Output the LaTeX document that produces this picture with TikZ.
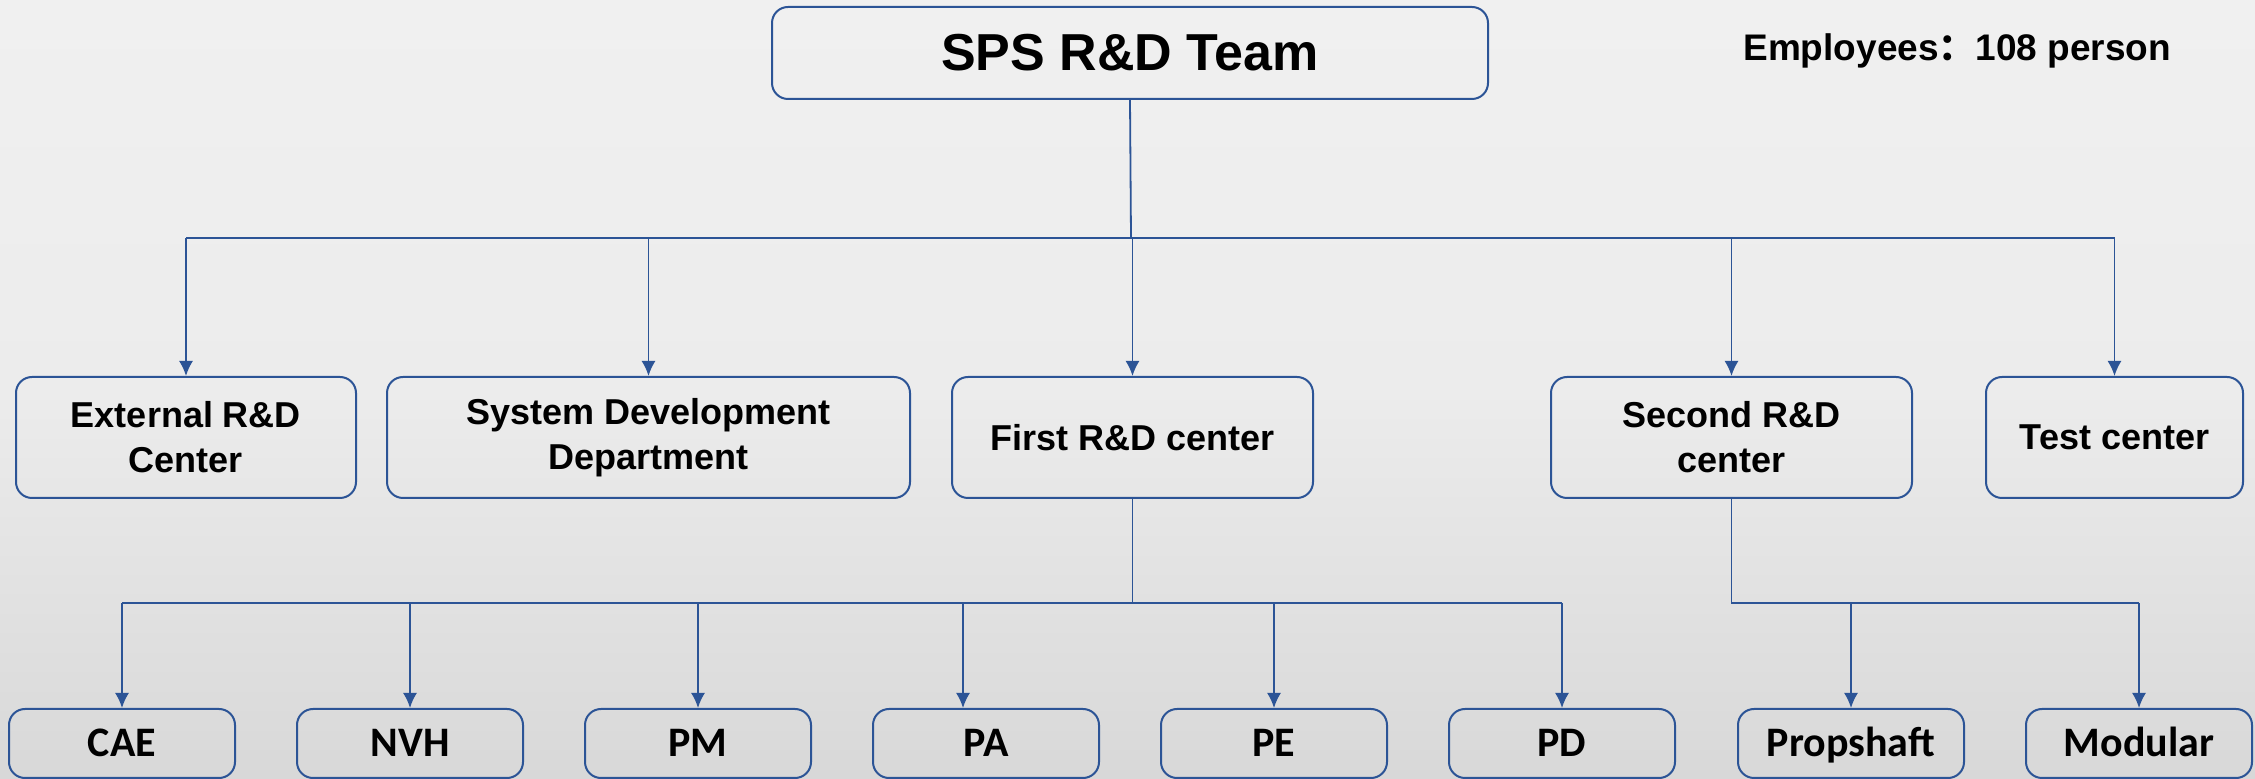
\documentclass[tikz,border=0pt]{standalone}
\usepackage{fontspec}
\setmainfont{Liberation Sans}
\newfontfamily\cjkfont{Noto Sans CJK SC}
\newfontfamily\carlfont{Carlito}
\usetikzlibrary{arrows.meta}
\definecolor{boxblue}{RGB}{44,84,150}
\tikzset{
  box/.style={draw=boxblue, line width=1pt, rounded corners=8pt, align=center, inner sep=0pt, font=\bfseries\fontsize{18}{22.5}\selectfont},
  midbox/.style={box, minimum height=60.5pt},
  lowbox/.style={box, minimum width=113pt, minimum height=34.5pt, text height=13.5pt, text depth=0pt, font=\carlfont\bfseries\fontsize{21}{24}\selectfont},
  conn/.style={draw=boxblue, line width=0.9pt},
  arr/.style={conn, -{Latex[length=7.5pt,width=7pt]}}
}
\begin{document}
\begin{tikzpicture}[x=0.5pt,y=-0.5pt]
\useasboundingbox (0,0) rectangle (2255,779);
\shade[top color={rgb,255:red,240;green,240;blue,240}, bottom color={rgb,255:red,216;green,216;blue,216}, middle color={rgb,255:red,236;green,236;blue,236}] (0,0) rectangle (2255,779);
% top
\node[box, minimum width=358pt, minimum height=46pt, font=\bfseries\fontsize{26}{30}\selectfont] (top) at (1130,53) {SPS R\&D Team};
\node[anchor=west, inner sep=0pt, font=\bfseries\fontsize{18.5}{22}\selectfont] (emp) at (1743,51) {Employees{\cjkfont\bfseries ：}108 person};
% second level
\node[midbox, minimum width=170pt] (ext) at (186,437.5) {External R\&D\\Center};
\node[midbox, minimum width=261.5pt] (sys) at (648.5,437.5) {System Development\\Department};
\node[midbox, minimum width=180.5pt] (first) at (1132.5,437.5) {First R\&D center};
\node[midbox, minimum width=180.5pt] (second) at (1731.5,437.5) {Second R\&D\\center};
\node[midbox, minimum width=128.5pt] (test) at (2114.5,437.5) {Test center};
% third level
\node[lowbox] (cae) at (122,743.5) {CAE};
\node[lowbox] (nvh) at (410,743.5) {NVH};
\node[lowbox] (pm) at (698,743.5) {PM};
\node[lowbox] (pa) at (986,743.5) {PA};
\node[lowbox] (pe) at (1274,743.5) {PE};
\node[lowbox] (pd) at (1562,743.5) {PD};
\node[lowbox] (prop) at (1851,743.5) {Propshaft};
\node[lowbox] (mod) at (2139,743.5) {Modular};
% connectors top -> second level
\coordinate (b0) at (1131,238);
\draw[conn] (top.south) -- (b0);
\draw[conn] (ext.north |- b0) -- (test.north |- b0);
\foreach \n in {ext,sys,first,second,test}
  \draw[arr] (\n.north |- b0) -- (\n.north);
% first center -> third level
\coordinate (b1) at (1132.5,603);
\draw[conn] (first.south) -- (b1);
\draw[conn] (cae.north |- b1) -- (pd.north |- b1);
\foreach \n in {cae,nvh,pm,pe,pd}
  \draw[arr] (\n.north |- b1) -- (\n.north);
\draw[arr] ([xshift=-11.5pt]pa.north |- b1) -- ([xshift=-11.5pt]pa.north);
% second center -> third level
\coordinate (b2) at (1731.5,603);
\draw[conn] (second.south) -- (b2) -- (mod.north |- b2);
\foreach \n in {prop,mod}
  \draw[arr] (\n.north |- b2) -- (\n.north);
\end{tikzpicture}
\end{document}
